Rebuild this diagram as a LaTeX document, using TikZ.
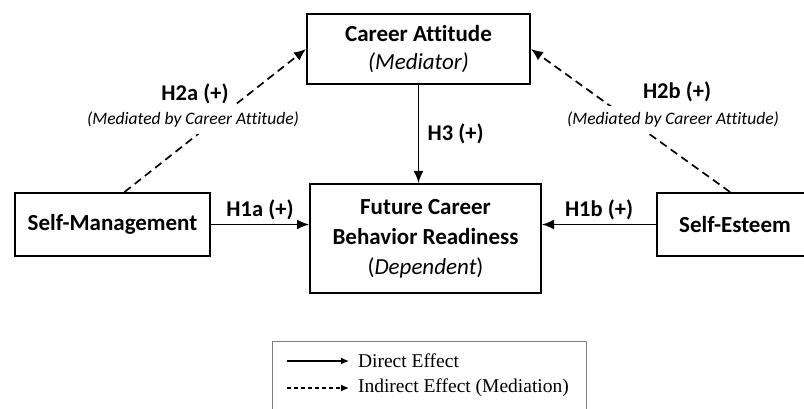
\documentclass[tikz,border=0pt]{standalone}
\usepackage{fontspec}
\setmainfont{Carlito}[Ligatures=NoCommon]
\newfontfamily\legendfont{Liberation Serif}
\usetikzlibrary{arrows.meta}
\tikzset{
  box/.style={draw, line width=2pt, align=center, inner sep=0pt, font=\fontsize{23}{26}\selectfont\bfseries},
  eff/.style={-{Latex[length=12pt,width=10pt]}, line width=1.7pt},
  ind/.style={eff, dash pattern=on 8pt off 5pt},
  lbl/.style={font=\fontsize{22.5}{25}\selectfont\bfseries},
  med/.style={fill=white, inner xsep=2pt, inner ysep=6pt, font=\fontsize{17.5}{20}\selectfont\itshape},
  legarrow/.style={-{Latex[length=8pt,width=7pt]}, line width=1.4pt},
  legtext/.style={font=\legendfont\fontsize{19.5}{22}\selectfont}
}
\begin{document}
\begin{tikzpicture}[x=1pt,y=-1pt]
  \useasboundingbox (0,0) rectangle (804,409);
  \node[box, minimum width=223pt, minimum height=70pt] (CA) at (418.5,49) {Career Attitude\\[2pt]{\mdseries\itshape (Mediator)}};
  \node[box, minimum width=231pt, minimum height=109pt] (FR) at (425.5,238.5) {Future Career\\[4pt]Behavior Readiness\\[4pt]{\mdseries(\textit{Dependent})}};
  \node[box, minimum width=195pt, minimum height=63pt] (SM) at (112.5,224.5) {Self-Management};
  \node[box, minimum width=156pt, minimum height=63pt] (SE) at (735,224.5) {Self-Esteem};

  \draw[eff] (CA.south) -- node[lbl, right=5pt]{H3 (+)} (CA.south |- FR.north);
  \draw[eff] (SM) -- node[lbl, above]{H1a (+)} (SM -| FR.west);
  \draw[eff] (SE) -- node[lbl, above]{H1b (+)} (SE -| FR.east);
  \draw[ind] ([xshift=12pt]SM.north) -- (CA.west);
  \draw[ind] ([xshift=-5pt]SE.north) -- (CA.east);

  \node[lbl] (H2a) at (195,94) {H2a (+)};
  \node[med] (M2a) at (193,120) {(Mediated by Career Attitude)};
  \node[lbl] (H2b) at (677,92) {H2b (+)};
  \node[med] (M2b) at (673,120) {(Mediated by Career Attitude)};

  % legend
  \node[draw=gray, line width=0.8pt, minimum width=314pt, minimum height=80pt, anchor=north west] (LG) at (272,341) {};
  \coordinate (L1) at (287,361);
  \coordinate (L2) at (349,361);
  \coordinate (L3) at (287,388);
  \coordinate (L4) at (349,388);
  \draw[legarrow] (L1) -- (L2) node[legtext, right=5pt]{Direct Effect};
  \draw[legarrow, dash pattern=on 4pt off 3pt] (L3) -- (L4) node[legtext, right=5pt]{Indirect Effect (Mediation)};
\end{tikzpicture}
\end{document}
